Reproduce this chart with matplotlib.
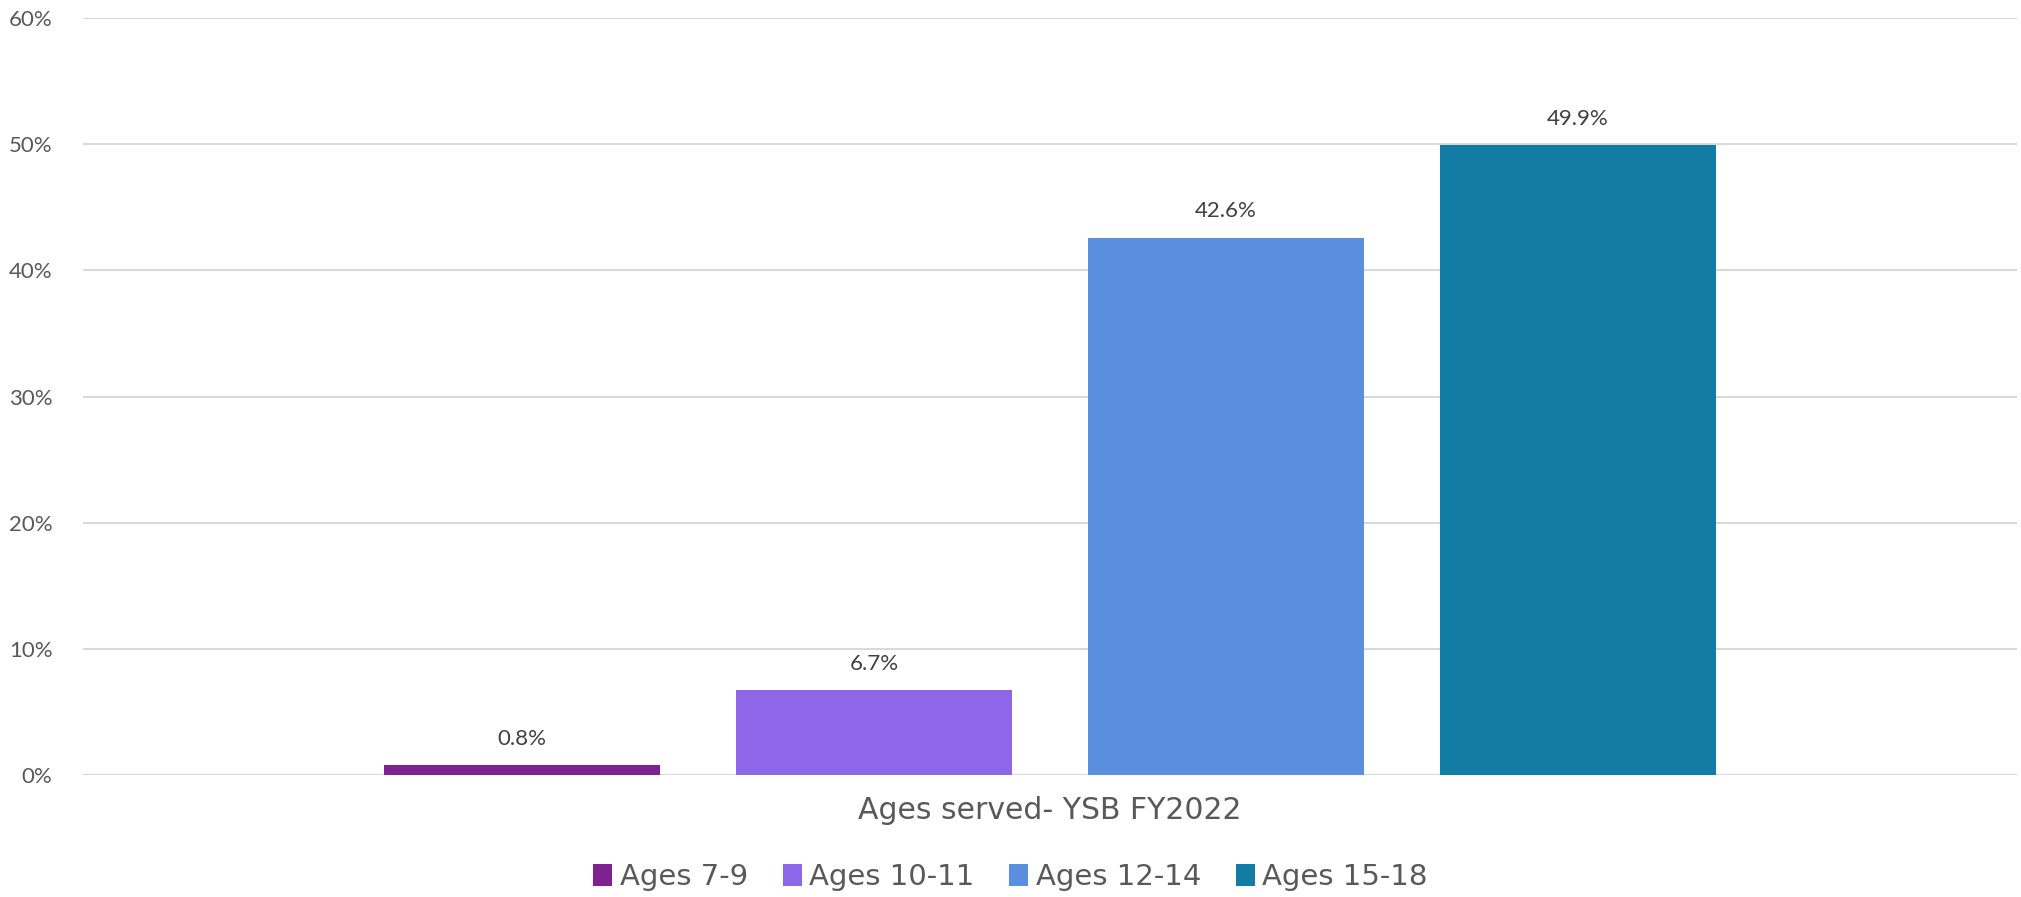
import matplotlib.pyplot as plt
from matplotlib.ticker import PercentFormatter

plt.rcParams['font.family'] = ['Lato', 'DejaVu Sans']

category = 'Ages served- YSB FY2022'
series = ['Ages 7-9', 'Ages 10-11', 'Ages 12-14', 'Ages 15-18']
values = [0.8, 6.7, 42.6, 49.9]
colors = ['#7E2191', '#8E67E8', '#5A8FE0', '#137CA4']

fig = plt.figure(figsize=(20.21, 8.97), dpi=100)
ax = fig.add_axes([83 / 2021, 1 - 775 / 897, 1934 / 2021, 757 / 897])

width = 0.143
step = 0.182
for i, (name, val, c) in enumerate(zip(series, values, colors)):
    x = (i - 1.5) * step
    ax.bar(x, val, width=width, color=c, label=name, zorder=3)
    ax.text(x, val + 1.3, f'{val:.1f}%', ha='center', va='bottom',
            fontsize=16, color='#404040')

ax.set_xlim(-0.5, 0.5)
ax.set_ylim(0, 60)
ax.set_yticks(range(0, 61, 10))
ax.yaxis.set_major_formatter(PercentFormatter(decimals=0))
ax.set_xticks([0])
ax.set_xticklabels([category], fontsize=21.5, color='#595959', family='DejaVu Sans')
ax.tick_params(axis='x', length=0, pad=15)
ax.tick_params(axis='y', length=0, labelsize=16, labelcolor='#595959', pad=22)
ax.grid(axis='y', color='#D9D9D9', linewidth=1.5, zorder=0)
for s in ax.spines.values():
    s.set_visible(False)

handles, labels = ax.get_legend_handles_labels()
fig.legend(handles, labels, loc='center', bbox_to_anchor=(0.5, 20 / 897), ncol=4,
           frameon=False, prop={'family': 'DejaVu Sans', 'size': 21},
           labelcolor='#595959', handlelength=0.65, handleheight=0.75,
           handletextpad=0.25, columnspacing=1.2)

fig.savefig('out.png', dpi=100, facecolor='white')
